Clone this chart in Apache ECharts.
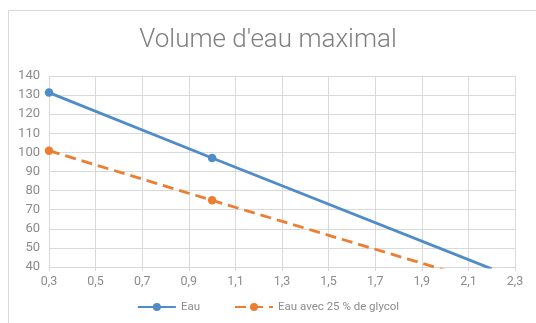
<!DOCTYPE html>
<html>
<head>
<meta charset="utf-8">
<script src="https://cdn.jsdelivr.net/npm/echarts@6/dist/echarts.min.js"></script>
<style>
  html, body { margin: 0; padding: 0; background: #fff; }
  #chart { width: 536px; height: 323px; }
</style>
</head>
<body>
<div id="chart"></div>
<script>
// Volume d'eau maximal selon le paramètre en abscisse
const xValues = [0.3, 1.0, 2.2];
const eauValues = [131.3, 97.1, 39.0];
const glycolValues = [100.9, 74.9, 31.0];
const seriesNames = ['Eau', 'Eau avec 25 % de glycol'];
const titleText = "Volume d'eau maximal";

const toPairs = (xs, ys) => xs.map((x, i) => [x, ys[i]]);
const comma = v => v.toFixed(1).replace('.', ',');

const chart = echarts.init(document.getElementById('chart'), null, { renderer: 'canvas' });
const textFont = 'Roboto, "Noto Sans", sans-serif';

chart.setOption({
  animation: false,
  backgroundColor: '#ffffff',
  title: {
    text: titleText,
    left: 'center',
    top: 22,
    textStyle: { fontFamily: textFont, fontWeight: 300, fontSize: 26, color: '#7f7f7f' }
  },
  legend: {
    bottom: 5,
    left: 'center',
    itemWidth: 38,
    itemHeight: 10,
    itemGap: 34,
    textStyle: { fontFamily: textFont, fontSize: 11.5, color: '#8c8c8c' },
    data: seriesNames
  },
  grid: { left: 49, right: 21, top: 76, bottom: 56, containLabel: false },
  xAxis: {
    type: 'value',
    min: 0.3,
    max: 2.3,
    interval: 0.2,
    axisLine: { show: true, lineStyle: { color: '#d9d9d9', width: 1 } },
    axisTick: { show: true, length: 4, lineStyle: { color: '#d9d9d9' } },
    splitLine: { show: true, lineStyle: { color: '#d9d9d9', width: 1 } },
    axisLabel: { formatter: comma, fontFamily: textFont, fontSize: 12.5, color: '#8c8c8c', margin: 8 }
  },
  yAxis: {
    type: 'value',
    min: 40,
    max: 140,
    interval: 10,
    axisLine: { show: false },
    axisTick: { show: false },
    splitLine: { show: true, lineStyle: { color: '#d9d9d9', width: 1 } },
    axisLabel: { fontFamily: textFont, fontSize: 13, color: '#8c8c8c', margin: 9 }
  },
  graphic: [{
    type: 'polyline',
    silent: true,
    shape: { points: [[8.5, 323], [8.5, 10.5], [536, 10.5]] },
    style: { stroke: '#d9d9d9', lineWidth: 1, fill: null }
  }],
  series: [
    {
      name: seriesNames[0],
      type: 'line',
      data: toPairs(xValues, eauValues),
      color: '#4f8cc9',
      symbol: 'circle',
      symbolSize: 8.5,
      showAllSymbol: true,
      clip: true,
      lineStyle: { width: 2.8, color: '#4f8cc9' },
      itemStyle: { color: '#4f8cc9' }
    },
    {
      name: seriesNames[1],
      type: 'line',
      data: toPairs(xValues, glycolValues),
      color: '#ed7d31',
      symbol: 'circle',
      symbolSize: 8.5,
      clip: true,
      lineStyle: { width: 2.8, type: [11, 6], color: '#ed7d31' },
      itemStyle: { color: '#ed7d31' }
    }
  ]
});
</script>
</body>
</html>
